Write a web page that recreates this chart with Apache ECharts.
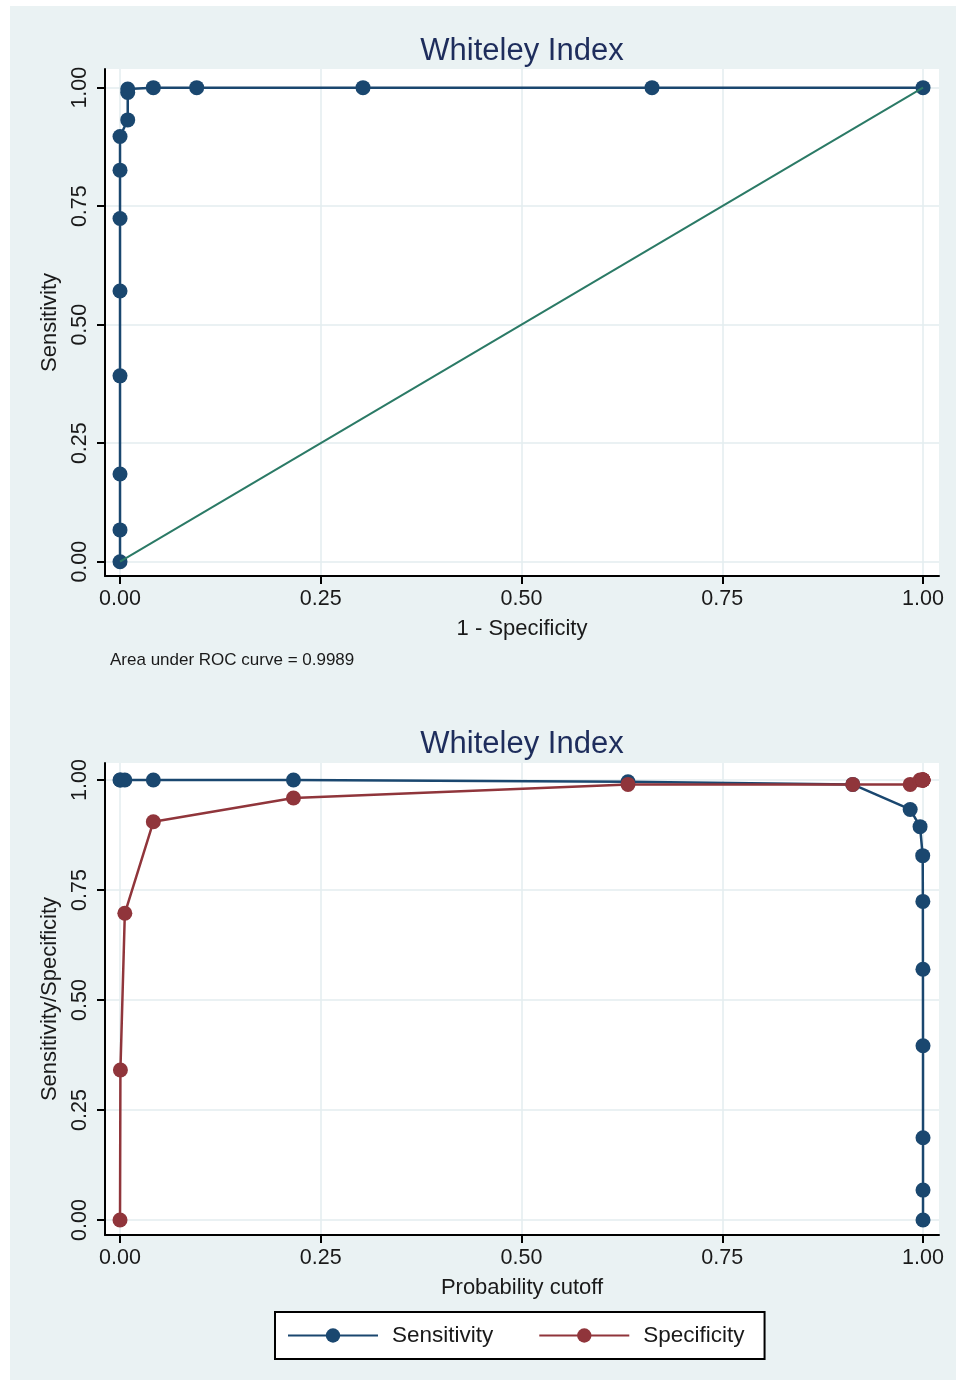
<!DOCTYPE html>
<html>
<head>
<meta charset="utf-8">
<script src="https://cdn.jsdelivr.net/npm/echarts@6/dist/echarts.min.js"></script>
<style>
  html, body { margin: 0; padding: 0; background: #ffffff; }
  #bg { position: absolute; left: 10px; top: 6px; width: 946px; height: 1374px; background: #eaf2f3; }
  #chart { position: absolute; left: 0; top: 0; width: 964px; height: 1385px; }
</style>
</head>
<body>
<div id="bg"></div>
<div id="chart"></div>
<script>
// ---- data ----
const titleText = 'Whiteley Index';
const aucNote = 'Area under ROC curve = 0.9989';
const tickValues = [0, 0.25, 0.5, 0.75, 1];

// ROC curve (top panel)
const rocOneMinusSpec = [0, 0, 0, 0, 0, 0, 0, 0, 0.0096, 0.0096, 0.0096, 0.0415, 0.0955, 0.3026, 0.6625, 1];
const rocSensitivity  = [0, 0.067, 0.185, 0.392, 0.571, 0.724, 0.826, 0.897, 0.932, 0.99, 0.997, 1, 1, 1, 1, 1];
const diagonalX = [0, 1];
const diagonalY = [0, 1];

// Sensitivity / specificity vs probability cutoff (bottom panel)
const cutoffs     = [0, 0.0005, 0.006, 0.0415, 0.216, 0.6326, 0.9125, 0.984, 0.9963, 0.9996, 0.9998, 0.9999, 1, 1, 1, 1];
const sensitivity = [1, 1, 1, 1, 1, 0.996, 0.99, 0.933, 0.894, 0.828, 0.724, 0.570, 0.396, 0.187, 0.068, 0];
const specificity = [0, 0.341, 0.697, 0.905, 0.959, 0.99, 0.99, 0.99, 1, 1, 1, 1, 1, 1, 1, 1];

// ---- styling ----
const NAVY = '#1a476f';
const MAROON = '#90353b';
const GREEN = '#2b7a66';
const GRIDLINE = '#e3edef';
const FONT = '"Liberation Sans", Arial, Helvetica, sans-serif';

function pairs(xs, ys) { return xs.map((x, i) => [x, ys[i]]); }
const fmt = v => v.toFixed(2);

function xAxisCfg(gridIndex, name) {
  return {
    type: 'value', gridIndex, min: -0.0187, max: 1.0199,
    name, nameLocation: 'middle', nameGap: 42,
    nameTextStyle: { fontFamily: FONT, fontSize: 22, color: '#1a1a1a' },
    axisLine: { show: true, onZero: false, lineStyle: { color: '#000', width: 2 } },
    axisTick: { show: true, customValues: tickValues, length: 8, lineStyle: { color: '#000', width: 2 } },
    axisLabel: { customValues: tickValues, formatter: fmt, margin: 12, fontFamily: FONT, fontSize: 21.5, color: '#1a1a1a' },
    splitLine: { show: true, lineStyle: { color: GRIDLINE, width: 1.5 } }
  };
}
function yAxisCfg(gridIndex, name, min, max) {
  return {
    type: 'value', gridIndex, min, max,
    name, nameLocation: 'middle', nameGap: 44,
    nameTextStyle: { fontFamily: FONT, fontSize: 22, color: '#1a1a1a' },
    axisLine: { show: true, onZero: false, lineStyle: { color: '#000', width: 2 } },
    axisTick: { show: true, customValues: tickValues, length: 8, lineStyle: { color: '#000', width: 2 } },
    axisLabel: { customValues: tickValues, formatter: fmt, rotate: 90, margin: 14, fontFamily: FONT, fontSize: 21.5, color: '#1a1a1a' },
    splitLine: { show: true, lineStyle: { color: GRIDLINE, width: 1.5 } }
  };
}

const chart = echarts.init(document.getElementById('chart'), null, { renderer: 'canvas' });
chart.setOption({
  animation: false,
  backgroundColor: 'transparent',
  grid: [
    { left: 105, top: 69, width: 834, height: 507, show: true, backgroundColor: '#ffffff', borderWidth: 0 },
    { left: 105, top: 763, width: 834, height: 472, show: true, backgroundColor: '#ffffff', borderWidth: 0 }
  ],
  xAxis: [
    xAxisCfg(0, '1 - Specificity'),
    xAxisCfg(1, 'Probability cutoff')
  ],
  yAxis: [
    yAxisCfg(0, 'Sensitivity', -0.0302, 1.0394),
    yAxisCfg(1, 'Sensitivity/Specificity', -0.0341, 1.0386)
  ],
  graphic: [
    { type: 'text', x: 522, y: 51, style: { text: titleText, align: 'center', verticalAlign: 'middle', fontFamily: FONT, fontSize: 31, fill: '#1e2d5c' } },
    { type: 'text', x: 522, y: 744, style: { text: titleText, align: 'center', verticalAlign: 'middle', fontFamily: FONT, fontSize: 31, fill: '#1e2d5c' } },
    { type: 'text', x: 110, y: 660, style: { text: aucNote, align: 'left', verticalAlign: 'middle', fontFamily: FONT, fontSize: 17, fill: '#1a1a1a' } }
  ],
  legend: {
    data: ['Sensitivity', 'Specificity'],
    left: 275, top: 1312,
    orient: 'horizontal',
    backgroundColor: '#ffffff', borderColor: '#000', borderWidth: 2, borderRadius: 0,
    padding: [12, 20, 12, 12],
    itemWidth: 90, itemHeight: 18, itemGap: 45,
    lineStyle: { width: 2 },
    textStyle: { fontFamily: FONT, fontSize: 22.5, color: '#1a1a1a', padding: [0, 0, 0, 9] }
  },
  series: [
    {
      name: 'ROC', type: 'line', xAxisIndex: 0, yAxisIndex: 0,
      data: pairs(rocOneMinusSpec, rocSensitivity),
      symbol: 'circle', symbolSize: 15,
      lineStyle: { color: NAVY, width: 2.5 }, itemStyle: { color: NAVY }, z: 2
    },
    {
      name: 'Reference', type: 'line', xAxisIndex: 0, yAxisIndex: 0,
      data: pairs(diagonalX, diagonalY), showSymbol: false, symbol: 'none',
      lineStyle: { color: GREEN, width: 2 }, itemStyle: { color: GREEN }, z: 3
    },
    {
      name: 'Sensitivity', type: 'line', xAxisIndex: 1, yAxisIndex: 1,
      data: pairs(cutoffs, sensitivity),
      symbol: 'circle', symbolSize: 15,
      lineStyle: { color: NAVY, width: 2.5 }, itemStyle: { color: NAVY }, z: 2
    },
    {
      name: 'Specificity', type: 'line', xAxisIndex: 1, yAxisIndex: 1,
      data: pairs(cutoffs, specificity),
      symbol: 'circle', symbolSize: 15,
      lineStyle: { color: MAROON, width: 2.5 }, itemStyle: { color: MAROON }, z: 3
    }
  ]
});
</script>
</body>
</html>
